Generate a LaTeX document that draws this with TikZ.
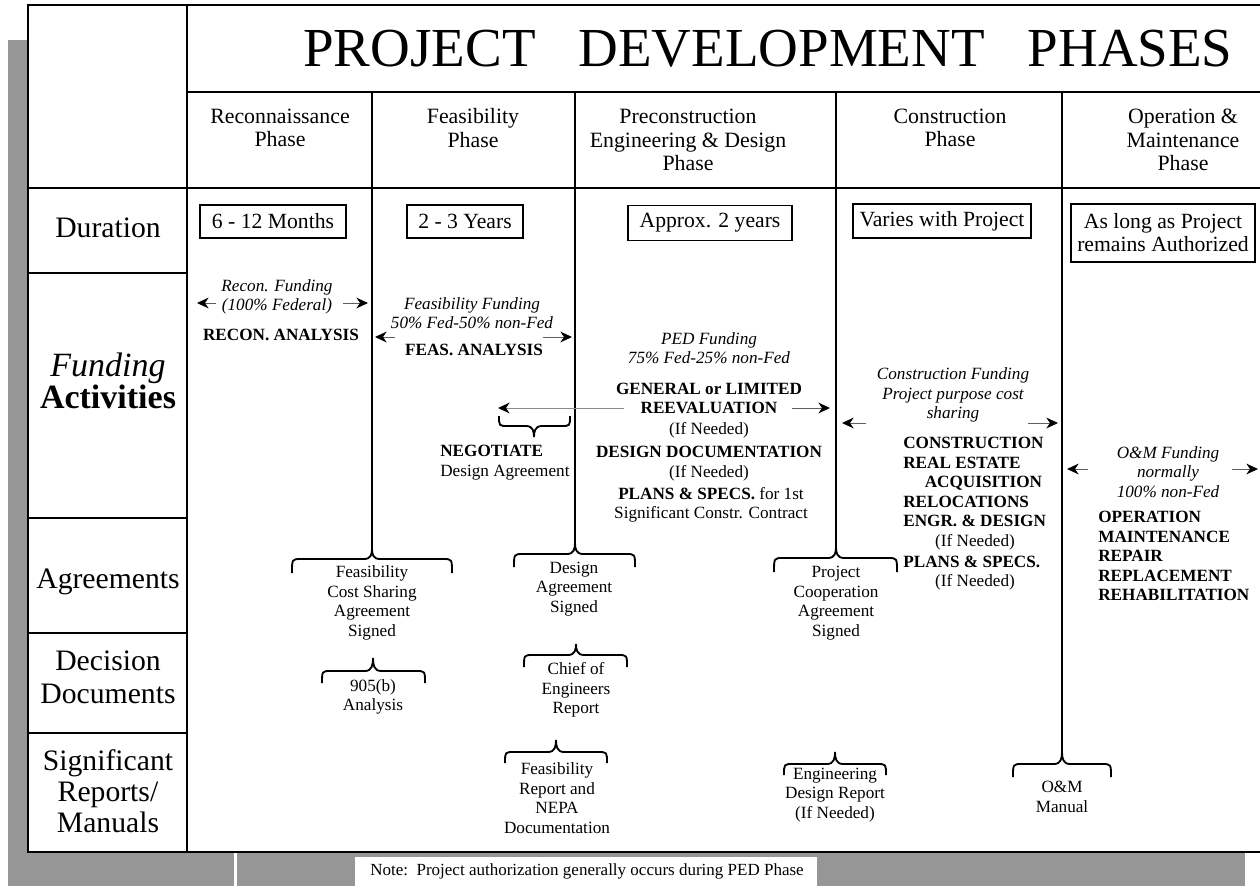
\documentclass[tikz,border=0pt]{standalone}
\usepackage{fontspec}
\setmainfont{Liberation Serif}
\usetikzlibrary{arrows.meta}

\definecolor{shadowgray}{RGB}{150,150,150}
\definecolor{shaft}{RGB}{95,95,95}
\definecolor{lightshaft}{RGB}{140,140,140}

\newcommand{\fnTitle}{\fontsize{33pt}{35pt}\selectfont}
\newcommand{\fnHead}{\fontsize{13.1pt}{14.1pt}\selectfont}
\newcommand{\fnRow}{\fontsize{17.8pt}{19.8pt}\selectfont}
\newcommand{\fnFund}{\fontsize{20.4pt}{21pt}\selectfont}
\newcommand{\fnDur}{\fontsize{13pt}{13.8pt}\selectfont}
\newcommand{\fnBody}{\fontsize{10.3pt}{11.7pt}\selectfont}
\newcommand{\fnNote}{\fontsize{10.2pt}{12pt}\selectfont}

% overbrace-like curly bracket: left x, right x, tip x, tip y, flat y, end y
\newcommand{\phbrace}[6]{%
  \draw[bracket] (#1,#6) .. controls (#1,#5) .. ({#1+9},#5)
    -- ({#3-8},#5) .. controls ({#3-1},#5) and (#3,{(#4+#5)/2}) .. (#3,#4)
    .. controls (#3,{(#4+#5)/2}) and ({#3+1},#5) .. ({#3+8},#5)
    -- ({#2-9},#5) .. controls (#2,#5) .. (#2,#6);}

\tikzset{
  frame/.style={line width=1.3pt, draw=black},
  phaseline/.style={line width=1.1pt, draw=black},
  bracket/.style={line width=1.1pt, draw=black},
  durbox/.style={draw=black, line width=1.1pt, font=\fnDur, align=center, inner sep=0pt},
  head/.style={font=\fnHead, align=center, inner sep=0pt},
  rowlab/.style={font=\fnRow, align=center, inner sep=0pt},
  txt/.style={font=\fnBody, align=center, inner sep=0pt},
  fund/.style={font=\fnBody\itshape, align=center, inner sep=0pt},
  act/.style={font=\fnBody\bfseries, align=center, inner sep=0pt},
  actleft/.style={font=\fnBody\bfseries, align=left, inner sep=0pt, anchor=west},
  farrow/.style={-{Stealth[length=7pt,width=6.5pt,inset=2.2pt,color=black]}, line width=0.6pt, draw=shaft},
}

\begin{document}
\begin{tikzpicture}[x=0.6pt,y=-0.6pt]
\useasboundingbox (0,0) rectangle (1260,886);
\fill[white] (0,0) rectangle (1260,886);

\begin{scope}
\clip (0,0) rectangle (1260,886);
% drop shadow and note strip
\fill[shadowgray] (8,40) rectangle (28,886);
\fill[shadowgray] (8,852) rectangle (234,886);
\fill[shadowgray] (237,852) rectangle (1245,886);
\fill[white] (355,857) rectangle (817,890);
% table frame
\draw[frame] (1290,5) -- (28,5) -- (28,852) -- (1290,852);
\draw[frame] (187,5) -- (187,852);
\draw[frame] (187,92) -- (1290,92);
\draw[frame] (28,188) -- (1290,188);
\foreach \yy in {273,518,633,733} \draw[frame] (28,\yy) -- (187,\yy);
\end{scope}

% title and phase headings
\node[font=\fnTitle, inner sep=0pt] (title) at (768,49)
  {PROJECT\hspace{0.78em}DEVELOPMENT\hspace{0.78em}PHASES};
\node[head] (ph1) at (280,128) {Reconnaissance\\Phase};
\node[head] (ph2) at (473,128) {Feasibility\\Phase};
\node[head] (ph3) at (688,140) {Preconstruction\\Engineering \& Design\\Phase};
\node[head] (ph4) at (950,128) {Construction\\Phase};
\node[head] (ph5) at (1183,140) {Operation \&\\Maintenance\\Phase};

% row labels
\node[rowlab] (rDur) at (108,228) {Duration};
\node[align=center, inner sep=0pt] (rFund) at (108,381)
  {\fnFund\itshape Funding\\\fnFund\bfseries Activities};
\node[rowlab] (rAgr) at (108,582) {Agreements};
\node[rowlab] (rDec) at (108,677) {Decision\\Documents};
\node[rowlab, font=\fontsize{17.8pt}{18.6pt}\selectfont] (rRep) at (108,791) {Significant\\Reports/\\Manuals};

% durations
\node[durbox, minimum width=87.6pt, minimum height=19.8pt] (d1) at (273,221.5) {6 - 12 Months};
\node[durbox, minimum width=69.6pt, minimum height=19.8pt] (d2) at (465,221.5) {2 - 3 Years};
\node[durbox, minimum width=98pt, minimum height=21pt] (d3) at (710,223) {Approx. 2 years};
\node[durbox, minimum width=107pt, minimum height=20.4pt] (d4) at (942,221) {Varies with Project};
\node[durbox, minimum width=110.4pt, minimum height=34.8pt] (d5) at (1163,233) {As long as Project\\remains Authorized};

% phase boundaries
\coordinate (top1) at (372,92);  \coordinate (tip1) at (372,549);
\coordinate (top2) at (575,92);  \coordinate (tip2) at (575,543);
\coordinate (top3) at (836,92);  \coordinate (tip3) at (836,547);
\coordinate (top4) at (1062,92); \coordinate (tip4) at (1062,752);
\draw[phaseline] (top1) -- (tip1);
\draw[phaseline] (top2) -- (tip2);
\draw[phaseline] (top3) -- (tip3);
\draw[phaseline] (top4) -- (tip4);

% reconnaissance funding
\node[fund] (rf) at (277,297) {Recon. Funding\\(100\% Federal)};
\coordinate (rfL1) at (216,303); \coordinate (rfL2) at (197,303);
\coordinate (rfR1) at (343,303); \coordinate (rfR2) at (368,303);
\draw[farrow] (rfL1) -- (rfL2);
\draw[farrow] (rfR1) -- (rfR2);
\node[act] (ra) at (281,335) {RECON. ANALYSIS};

% feasibility funding
\node[fund] (ff) at (472,313) {Feasibility Funding\\50\% Fed-50\% non-Fed};
\coordinate (ffL1) at (395,337); \coordinate (ffL2) at (375,337);
\coordinate (ffR1) at (543,337); \coordinate (ffR2) at (572,337);
\draw[farrow] (ffL1) -- (ffL2);
\draw[farrow] (ffR1) -- (ffR2);
\node[act] (fa) at (474,350) {FEAS. ANALYSIS};

% PED funding
\node[fund] (pf) at (709,348) {PED Funding\\75\% Fed-25\% non-Fed};
\node[act] (gl) at (709,398.5) {GENERAL or LIMITED\\REEVALUATION};
\coordinate (glL1) at (624,408); \coordinate (glL2) at (498,408);
\coordinate (glR1) at (792,408); \coordinate (glR2) at (830,408);
\draw[farrow, draw=lightshaft] (glL1) -- (glL2);
\draw[farrow] (glR1) -- (glR2);
\node[txt] (in1) at (709,430) {(If Needed)};
\node[act] (dd) at (709,452) {DESIGN DOCUMENTATION};
\node[txt] (in2) at (709,473) {(If Needed)};
\node[txt] (ps1) at (711,505) {\textbf{PLANS \& SPECS.} for 1st\\Significant Constr. Contract};

% design agreement negotiation
\phbrace{499}{570}{534}{437}{426}{416}
\node[font=\fnBody, align=left, inner sep=0pt, anchor=west] (neg) at (440,462.5)
  {\textbf{NEGOTIATE}\\Design Agreement};

% construction funding
\node[fund] (cf) at (953,395) {Construction Funding\\Project purpose cost\\sharing};
\coordinate (cfL1) at (866,423); \coordinate (cfL2) at (842,423);
\coordinate (cfR1) at (1028,423); \coordinate (cfR2) at (1058,423);
\draw[farrow] (cfL1) -- (cfL2);
\draw[farrow] (cfR1) -- (cfR2);
\node[actleft] (ca) at (903,482) {CONSTRUCTION\\REAL ESTATE\\\hspace*{1.25em}ACQUISITION\\RELOCATIONS\\ENGR. \& DESIGN};
\node[txt] (in3) at (975,542) {(If Needed)};
\node[actleft] (ps2) at (903,562) {PLANS \& SPECS.};
\node[txt] (in4) at (975,582) {(If Needed)};

% O&M funding
\node[fund] (of) at (1168,472) {O\&M Funding\\normally\\100\% non-Fed};
\coordinate (ofL1) at (1088,469); \coordinate (ofL2) at (1067,469);
\coordinate (ofR1) at (1232,469); \coordinate (ofR2) at (1258,469);
\draw[farrow] (ofL1) -- (ofL2);
\draw[farrow] (ofR1) -- (ofR2);
\node[actleft] (oa) at (1098,556) {OPERATION\\MAINTENANCE\\REPAIR\\REPLACEMENT\\REHABILITATION};

% agreements
\phbrace{292}{452}{372}{549}{559}{573}
\node[txt] (ag1) at (372,603) {Feasibility\\Cost Sharing\\Agreement\\Signed};
\phbrace{514}{635}{575}{543}{554}{567}
\node[txt] (ag2) at (574,589) {Design\\Agreement\\Signed};
\phbrace{774}{897}{836}{547}{558}{572}
\node[txt] (ag3) at (836,603) {Project\\Cooperation\\Agreement\\Signed};

% decision documents
\phbrace{322}{425}{373}{658}{671}{683}
\node[txt] (dc1) at (373,697) {905(b)\\Analysis};
\phbrace{524}{627}{576}{644}{655}{667}
\node[txt] (dc2) at (576,690) {Chief of\\Engineers\\Report};

% significant reports
\phbrace{505}{607}{556}{740}{752}{763}
\node[txt] (sr1) at (557,798) {Feasibility\\Report and\\NEPA\\Documentation};
\phbrace{784}{886}{835}{752}{764}{775}
\node[txt] (sr2) at (835,795) {Engineering\\Design Report\\(If Needed)};
\phbrace{1013}{1111}{1062}{752}{764}{777}
\node[txt] (sr3) at (1062,797) {O\&M\\Manual};

% footnote
\node[font=\fnNote, inner sep=0pt] (note) at (587,871)
  {Note:\ \ Project authorization generally occurs during PED Phase};
\end{tikzpicture}
\end{document}
